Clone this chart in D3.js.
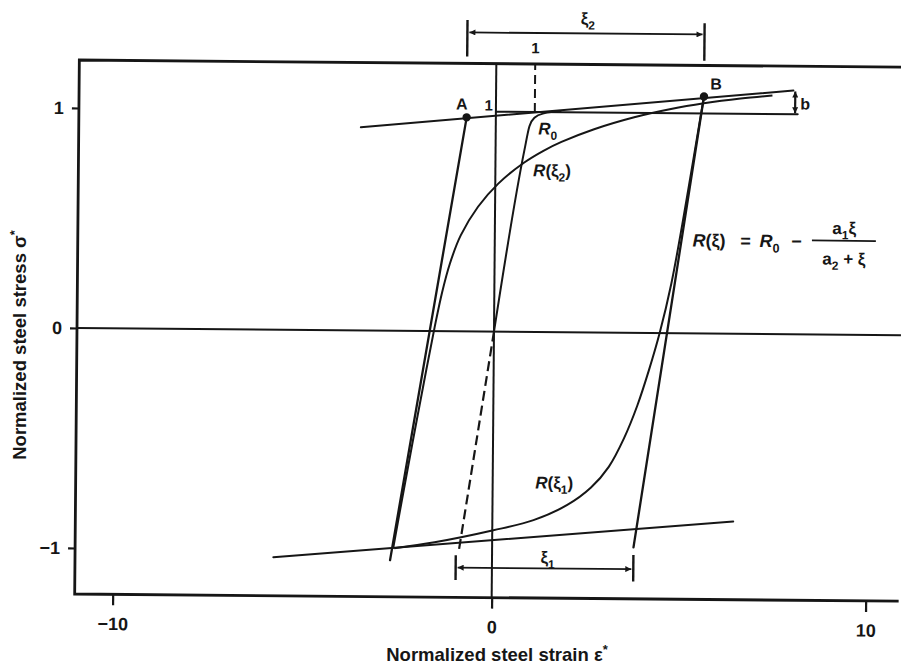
<!DOCTYPE html>
<html>
<head>
<meta charset="utf-8">
<script src="https://cdn.jsdelivr.net/npm/d3@7"></script>
<style>
  body { margin: 0; background: #fff; }
  svg { display: block; }
  text { font-family: "Liberation Sans", Arial, sans-serif; fill: #161616; font-weight: bold; }
</style>
</head>
<body>
<div id="chart"></div>
<script>
// axis ticks
const xTicks = [-10, 0, 10];
const yTicks = [-1, 0, 1];

// hardening asymptotes and the yield level (strain, stress)
const upperAsymptote = [[-3.56, 0.924], [7.95, 1.108]];
const lowerAsymptote = [[-5.77, -1.034], [6.44, -0.853]];
const yieldLevel = [[0, 1.0], [8.07, 1.0]];

// asymptote intersection / reversal points
const pointA = [-0.77, 0.973];
const pointB = [5.56, 1.077];

// elastic branches
const elasticA = [[-0.77, 0.973], [-2.69, -1.043]];
const elasticB = [[5.56, 1.077], [3.78, -0.975]];
const elasticOrigin = [[0, 0], [-0.88, -1.0]];

// transition curves
const curveR0 = [[0, 0], [0.77, 0.825], [0.9, 0.935], [1.04, 0.975], [1.28, 0.994], [1.75, 1.005]];
const curveXi2 = [
  [-2.61, -0.989], [-2.39, -0.769], [-2.13, -0.514], [-1.84, -0.236], [-1.57, 0.015],
  [-1.38, 0.175], [-1.18, 0.307], [-0.9, 0.436], [-0.45, 0.567], [0.08, 0.673],
  [0.77, 0.77], [1.28, 0.824], [1.76, 0.865], [2.63, 0.924], [3.7, 0.98],
  [4.68, 1.019], [5.56, 1.046], [6.54, 1.069], [7.39, 1.084]
];
const curveXi1 = [
  [5.56, 1.077], [5.29, 0.79], [5.01, 0.495], [4.73, 0.225], [4.43, 0.0],
  [4.15, -0.17], [3.85, -0.33], [3.5, -0.48], [3.1, -0.61], [2.63, -0.705],
  [2.0, -0.785], [1.1, -0.855], [0.03, -0.903], [-1.52, -0.96], [-2.58, -0.988]
];

// dimension lines: [strain from, strain to, stress level]
const xi2Span = [-0.77, 5.56, 1.359];
const xi1Span = [-0.957, 3.78, -1.074];
const bSpan = [8.0, 1.0, 1.108];
const unitStrain = 1.04;

const width = 901, height = 669;
const frame = { left: 77, right: 901, top: 60, bottom: 594 };
const ink = "#161616";

const x = d3.scaleLinear().domain([-10, 0, 10]).range([115, 494, 868]);
const y = d3.scaleLinear().domain([-1, 0, 1]).range([548, 328, 108]);
const line = d3.line().x(d => x(d[0])).y(d => y(d[1]));

const svg = d3.select("#chart").append("svg")
    .attr("width", width)
    .attr("height", height);

svg.append("defs").append("marker")
    .attr("id", "arrow")
    .attr("viewBox", "0 0 10 10")
    .attr("refX", 10).attr("refY", 5)
    .attr("markerWidth", 9).attr("markerHeight", 6)
    .attr("markerUnits", "userSpaceOnUse")
    .attr("orient", "auto-start-reverse")
  .append("path")
    .attr("d", "M0,0L10,5L0,10Z")
    .attr("fill", ink);

// the scanned figure sits slightly rotated
const g = svg.append("g")
    .attr("transform", `rotate(0.5, ${frame.left}, ${y(0)})`);

function rich(parent, px, py, parts, size, anchor) {
  const t = parent.append("text")
      .attr("x", px).attr("y", py)
      .attr("font-size", size)
      .attr("text-anchor", anchor || "start");
  let shift = 0;
  parts.forEach(p => {
    const target = p.sub ? size * 0.3 : p.sup ? -size * 0.4 : 0;
    const sp = t.append("tspan").text(p.t).attr("dy", target - shift);
    shift = target;
    if (p.sub || p.sup) sp.attr("font-size", size * 0.7);
    if (p.it) sp.attr("font-style", "italic");
  });
  return t;
}

// frame
g.append("path")
    .attr("d", `M${frame.right},${frame.top}H${frame.left}V${frame.bottom}H${frame.right}`)
    .attr("fill", "none").attr("stroke", ink).attr("stroke-width", 2.8);

// zero lines
g.append("line")
    .attr("x1", frame.left).attr("x2", frame.right)
    .attr("y1", y(0)).attr("y2", y(0))
    .attr("stroke", ink).attr("stroke-width", 2);
g.append("line")
    .attr("x1", x(0)).attr("x2", x(0))
    .attr("y1", frame.top).attr("y2", frame.bottom)
    .attr("stroke", ink).attr("stroke-width", 2);

// axes
const yAxis = g.append("g")
    .attr("transform", `translate(${frame.left},0)`)
    .call(d3.axisLeft(y).tickValues(yTicks).tickFormat(d3.format("d")).tickSize(7).tickPadding(8));
const xAxis = g.append("g")
    .attr("transform", `translate(0,${frame.bottom})`)
    .call(d3.axisBottom(x).tickValues(xTicks).tickFormat(d3.format("d")).tickSize(11).tickPadding(12));
[xAxis, yAxis].forEach(a => {
  a.select(".domain").remove();
  a.selectAll(".tick line").attr("stroke", ink).attr("stroke-width", 2.2);
  a.selectAll(".tick text")
      .attr("font-size", 18)
      .attr("font-family", "Liberation Sans, Arial, sans-serif")
      .attr("fill", ink);
});

// asymptotes and reference lines
const solid = (data, w) => g.append("path")
    .attr("d", line(data))
    .attr("fill", "none").attr("stroke", ink)
    .attr("stroke-width", w || 2).attr("stroke-linecap", "round");

solid(upperAsymptote);
solid(lowerAsymptote);
solid(yieldLevel);
solid(elasticA, 2.3);
solid(elasticB, 2.3);

g.append("path")
    .attr("d", line(elasticOrigin))
    .attr("fill", "none").attr("stroke", ink)
    .attr("stroke-width", 2.2).attr("stroke-dasharray", "10,5");

g.append("line")
    .attr("x1", x(unitStrain)).attr("x2", x(unitStrain))
    .attr("y1", y(1)).attr("y2", frame.top)
    .attr("stroke", ink).attr("stroke-width", 2).attr("stroke-dasharray", "9,5");

// transition curves
const smooth = d3.line().x(d => x(d[0])).y(d => y(d[1])).curve(d3.curveCatmullRom.alpha(0.5));
g.append("path")
    .attr("d", line.curve(d3.curveMonotoneX)(curveR0))
    .attr("fill", "none").attr("stroke", ink).attr("stroke-width", 2);
line.curve(d3.curveLinear);
[curveXi2, curveXi1].forEach(c => g.append("path")
    .attr("d", smooth(c))
    .attr("fill", "none").attr("stroke", ink).attr("stroke-width", 2));

// points A and B
g.selectAll("circle.pt")
  .data([pointA, pointB])
  .join("circle")
    .attr("class", "pt")
    .attr("cx", d => x(d[0])).attr("cy", d => y(d[1]))
    .attr("r", 4.2).attr("fill", ink);

// dimension lines
function dimension(s, ticks) {
  const [e0, e1, lev] = s;
  g.append("line")
      .attr("x1", x(e0) + 2).attr("x2", x(e1) - 2)
      .attr("y1", y(lev)).attr("y2", y(lev))
      .attr("stroke", ink).attr("stroke-width", 1.8)
      .attr("marker-start", "url(#arrow)").attr("marker-end", "url(#arrow)");
  ticks.forEach(t => g.append("line")
      .attr("x1", x(t[0])).attr("x2", x(t[0]))
      .attr("y1", y(t[1])).attr("y2", y(t[2]))
      .attr("stroke", ink).attr("stroke-width", 2.4));
}
dimension(xi2Span, [[-0.77, 1.25, 1.415], [5.56, 1.24, 1.41]]);
dimension(xi1Span, [[-0.957, -1.018, -1.13], [3.78, -1.01, -1.13]]);

g.append("line")
    .attr("x1", x(bSpan[0])).attr("x2", x(bSpan[0]))
    .attr("y1", y(bSpan[1]) - 1).attr("y2", y(bSpan[2]) + 1)
    .attr("stroke", ink).attr("stroke-width", 2.2)
    .attr("marker-start", "url(#arrow)").attr("marker-end", "url(#arrow)");

// labels
rich(g, x(-0.9), y(1.036) + 6, [{ t: "A" }], 16, "middle");
rich(g, x(5.88), y(1.136) + 6, [{ t: "B" }], 16, "middle");
rich(g, x(-0.08), y(1.028) + 5, [{ t: "1" }], 15, "end");
rich(g, x(unitStrain), y(1.289) + 5, [{ t: "1" }], 15, "middle");
rich(g, x(8.27), y(1.049) + 6, [{ t: "b" }], 16, "middle");
rich(g, x(2.44), y(1.427) + 6, [{ t: "ξ" }, { t: "2", sub: true }], 17, "middle");
rich(g, x(1.49), y(-1.024) + 6, [{ t: "ξ" }, { t: "1", sub: true }], 17, "middle");
rich(g, x(1.14), y(0.925) + 6, [{ t: "R", it: true }, { t: "0", sub: true }], 17);
rich(g, x(1.01), y(0.735) + 6, [{ t: "R", it: true }, { t: "(ξ" }, { t: "2", sub: true }, { t: ")" }], 17);
rich(g, x(1.14), y(-0.684) + 6, [{ t: "R", it: true }, { t: "(ξ" }, { t: "1", sub: true }, { t: ")" }], 17);

// formula R(ξ) = R0 − a1ξ / (a2 + ξ)
const fx = x(5.29), fy = y(0.422) + 6;
rich(g, fx, fy, [{ t: "R", it: true }, { t: "(ξ)" }], 18);
rich(g, fx + 53, fy, [{ t: "=" }], 18, "middle");
rich(g, fx + 67, fy, [{ t: "R", it: true }, { t: "0", sub: true }], 18);
rich(g, fx + 104, fy, [{ t: "−" }], 18, "middle");
g.append("line")
    .attr("x1", x(8.48)).attr("x2", x(10.19))
    .attr("y1", y(0.427)).attr("y2", y(0.427))
    .attr("stroke", ink).attr("stroke-width", 1.8);
rich(g, x(9.34), y(0.48) + 5, [{ t: "a" }, { t: "1", sub: true }, { t: "ξ" }], 17, "middle");
rich(g, x(9.34), y(0.345) + 6, [{ t: "a" }, { t: "2", sub: true }, { t: " + ξ" }], 17, "middle");

// axis titles
rich(svg, 497, 661, [{ t: "Normalized steel strain ε" }, { t: "*", sup: true }], 18.5, "middle");
rich(svg, 0, 0, [{ t: "Normalized steel stress σ" }, { t: "*", sup: true }], 18.5, "middle")
    .attr("transform", "translate(26,345) rotate(-90)");
</script>
</body>
</html>
